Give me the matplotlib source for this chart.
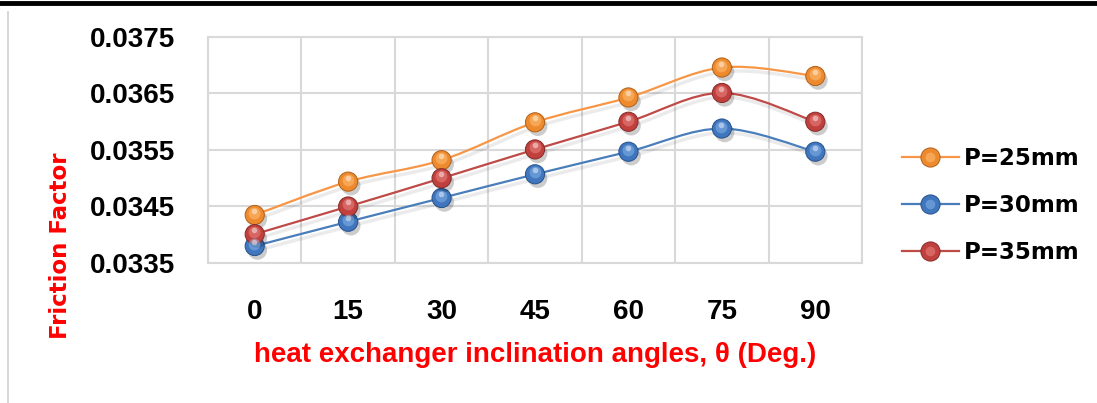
import matplotlib
matplotlib.use("Agg")
import matplotlib.pyplot as plt
import matplotlib.patheffects as pe
from matplotlib.lines import Line2D
from matplotlib.path import Path
from matplotlib.patches import PathPatch
from matplotlib.transforms import offset_copy
from matplotlib.legend_handler import HandlerTuple

# inclination angles (deg) and friction factor per pitch
angles = [0, 15, 30, 45, 60, 75, 90]
f_p25 = [0.03435, 0.03494, 0.03532, 0.03599, 0.03643, 0.03696, 0.03681]
f_p30 = [0.03380, 0.03423, 0.03465, 0.03507, 0.03547, 0.03588, 0.03547]
f_p35 = [0.03401, 0.03450, 0.03500, 0.03551, 0.03600, 0.03651, 0.03600]
series_labels = ["P=25mm", "P=30mm", "P=35mm"]

y_ticks = [0.0335, 0.0345, 0.0355, 0.0365, 0.0375]

# (line, marker face, marker edge, highlight) - Excel 2007 palette
styles = [
    ("#F79646", "#EE8A2E", "#B0601A", "#FFC27A"),
    ("#4A7EBB", "#3F76BE", "#27508A", "#8DB8EC"),
    ("#BE4B48", "#C0403D", "#852B29", "#EE8A88"),
]

TICK_FONT = "Liberation Sans"


def smooth_path(xs, ys):
    # Excel-style smoothed line: cubic bezier through every point,
    # control points from neighbouring points (catmull-rom, /6).
    pts = list(zip(xs, ys))
    n = len(pts)
    verts = [pts[0]]
    codes = [Path.MOVETO]
    for i in range(n - 1):
        p0 = pts[max(i - 1, 0)]
        p1 = pts[i]
        p2 = pts[i + 1]
        p3 = pts[min(i + 2, n - 1)]
        c1 = (p1[0] + (p2[0] - p0[0]) / 6, p1[1] + (p2[1] - p0[1]) / 6)
        c2 = (p2[0] - (p3[0] - p1[0]) / 6, p2[1] - (p3[1] - p1[1]) / 6)
        verts += [c1, c2, p2]
        codes += [Path.CURVE4] * 3
    return Path(verts, codes)


fig = plt.figure(figsize=(10.97, 4.03), dpi=100)
ax = fig.add_axes([0.1896, 0.3474, 0.5962, 0.5608])

x = list(range(len(angles)))
handles = []
for ys, (lc, fc, ec, hc), lab in zip([f_p25, f_p30, f_p35], styles, series_labels):
    patch = PathPatch(smooth_path(x, ys), facecolor="none", edgecolor=lc,
                      linewidth=1.6, zorder=3,
                      path_effects=[pe.SimpleLineShadow(offset=(2, -3), alpha=0.08,
                                                        shadow_color="black", linewidth=2.5),
                                    pe.Normal()])
    ax.add_patch(patch)
    ax.plot(x, ys, ls="none", marker="o", ms=13.8, mfc=fc, mec=ec, mew=0.7,
            zorder=4,
            path_effects=[pe.SimplePatchShadow(offset=(2, -3), alpha=0.2,
                                               shadow_rgbFace="black"),
                          pe.Normal()])
    # fake the glossy sphere look with two lighter offset dots
    ax.plot(x, ys, ls="none", marker="o", ms=8.5, mfc=hc, mec="none", alpha=0.5,
            zorder=5, transform=offset_copy(ax.transData, fig, x=-0.5, y=2.0, units="dots"))
    ax.plot(x, ys, ls="none", marker="o", ms=4, mfc="white", mec="none", alpha=0.45,
            zorder=6, transform=offset_copy(ax.transData, fig, x=-0.5, y=4.0, units="dots"))
    h_line = Line2D([], [], color=lc, lw=1.6, marker="o", ms=13.8, mfc=fc, mec=ec, mew=0.7)
    h_hi = Line2D([], [], ls="none", marker="o", ms=7, mfc=hc, mec="none", alpha=0.5)
    handles.append((h_line, h_hi))

ax.set_xlim(-0.5, len(angles) - 0.5)
ax.set_ylim(y_ticks[0], y_ticks[-1])
ax.set_xticks(x)
ax.set_xticklabels([str(a) for a in angles])
ax.set_xticks([i - 0.5 for i in range(len(angles) + 1)], minor=True)
ax.set_yticks(y_ticks)
ax.set_yticklabels([f"{v:.4f}" for v in y_ticks])

ax.grid(which="minor", axis="x", color="#D9D9D9", linewidth=1.5)
ax.grid(which="major", axis="y", color="#D9D9D9", linewidth=1.5)
ax.set_axisbelow(True)
for s in ax.spines.values():
    s.set_color("#D9D9D9")
    s.set_linewidth(1.5)

ax.tick_params(axis="both", which="both", length=0)
ax.tick_params(axis="x", pad=26)
ax.tick_params(axis="y", pad=24)
for t in ax.get_xticklabels() + ax.get_yticklabels():
    t.set_fontfamily(TICK_FONT)
    t.set_fontweight("bold")
    t.set_fontsize(20)

ax.set_xlabel("heat exchanger inclination angles, θ (Deg.)",
              fontfamily="Liberation Sans", fontweight="bold", fontsize=20,
              color="#FF0000", labelpad=12)
fig.text(0.055, 0.39, "Friction Factor", rotation=90, ha="center", va="center",
         fontfamily="DejaVu Sans", fontweight="bold", fontsize=16.5, color="#FF0000")

fig.legend(handles, series_labels, loc="center left",
           bbox_to_anchor=(0.822, 0.491), frameon=False,
           handler_map={tuple: HandlerTuple(ndivide=1, pad=0)},
           prop={"family": "DejaVu Sans", "weight": "bold", "size": 16.5},
           handlelength=2.5, handletextpad=0.2, labelspacing=1.05,
           borderpad=0, borderaxespad=0)

# bits of the surrounding document frame
fig.add_artist(Line2D([0, 1], [0.993, 0.993], color="black", lw=3.5,
                      transform=fig.transFigure))
fig.add_artist(Line2D([0.0075, 0.0075], [0, 0.97], color="#D0D0D0", lw=1.2,
                      transform=fig.transFigure))

fig.savefig("out.png", dpi=100)
